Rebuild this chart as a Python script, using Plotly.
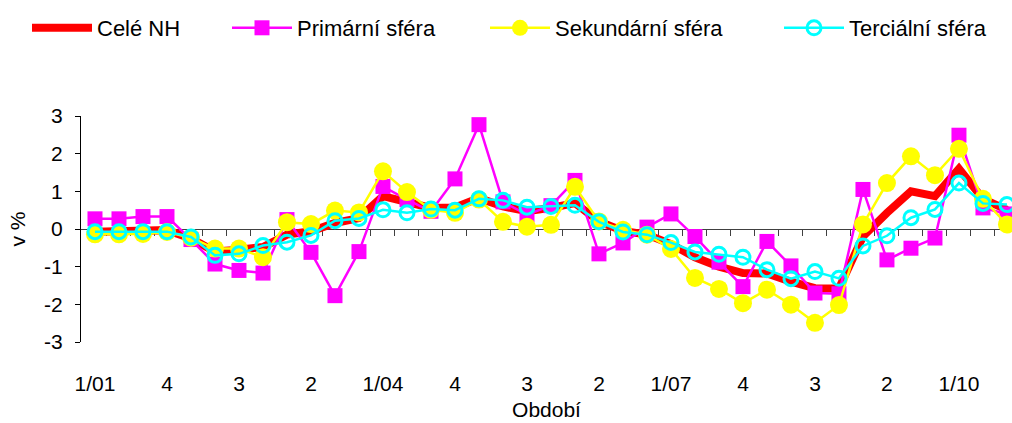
import plotly.graph_objects as go

categories = [
    "1/01", "2", "3", "4", "1/02", "2", "3", "4", "1/03", "2", "3", "4",
    "1/04", "2", "3", "4", "1/05", "2", "3", "4", "1/06", "2", "3", "4",
    "1/07", "2", "3", "4", "1/08", "2", "3", "4", "1/09", "2", "3", "4",
    "1/10", "2", "3",
]

cele_nh = [-0.07, -0.07, -0.05, -0.03, -0.25, -0.6, -0.55, -0.48, -0.15, -0.06,
           0.16, 0.29, 0.87, 0.73, 0.56, 0.57, 0.82, 0.6, 0.47, 0.56,
           0.69, 0.2, -0.05, -0.15, -0.4, -0.75, -1.0, -1.17, -1.18, -1.4,
           -1.57, -1.58, -0.2, 0.43, 1.0, 0.87, 1.6, 0.8, 0.51]

primarni = [0.27, 0.27, 0.33, 0.33, -0.28, -0.93, -1.1, -1.17, 0.25, -0.62,
            -1.77, -0.6, 1.13, 0.78, 0.47, 1.33, 2.77, 0.72, 0.38, 0.62,
            1.29, -0.66, -0.37, 0.05, 0.4, -0.2, -0.88, -1.53, -0.33, -0.98,
            -1.7, -1.72, 1.05, -0.82, -0.51, -0.24, 2.49, 0.56, 0.4]

sekundarni = [-0.14, -0.14, -0.13, -0.08, -0.23, -0.52, -0.52, -0.75, 0.18, 0.13,
              0.49, 0.44, 1.53, 0.98, 0.51, 0.43, 0.78, 0.19, 0.06, 0.11,
              1.12, 0.2, -0.02, -0.15, -0.53, -1.3, -1.59, -1.97, -1.61, -2.01,
              -2.49, -2.02, 0.12, 1.22, 1.93, 1.43, 2.13, 0.8, 0.12]

terciarni = [-0.07, -0.07, -0.07, -0.07, -0.21, -0.7, -0.66, -0.44, -0.35, -0.17,
             0.22, 0.28, 0.51, 0.43, 0.53, 0.5, 0.8, 0.76, 0.58, 0.6,
             0.63, 0.19, -0.08, -0.15, -0.36, -0.61, -0.67, -0.75, -1.08, -1.32,
             -1.13, -1.31, -0.45, -0.18, 0.3, 0.52, 1.22, 0.68, 0.65]

y_ticks = [-3, -2, -1, 0, 1, 2, 3]
y_tick_text = ["-3", "-2", "-1", "0", "1", "2", "3"]

x_idx = list(range(len(categories)))
label_idx = x_idx[::3]
label_text = [categories[i] for i in label_idx]
boundaries = [i + 0.5 for i in x_idx]

FONT = "Liberation Sans, Arial, sans-serif"
FS = 21
x_range = [-0.583, 38.21]

fig = go.Figure()

fig.add_trace(go.Scatter(
    x=x_idx, y=cele_nh, name="Celé NH", mode="lines",
    line=dict(color="#FF0000", width=8), legend="legend"))
fig.add_trace(go.Scatter(
    x=x_idx, y=primarni, name="Primární sféra", mode="lines+markers",
    line=dict(color="#FF00FF", width=2.5),
    marker=dict(symbol="square", size=15, color="#FF00FF"), legend="legend2"))
fig.add_trace(go.Scatter(
    x=x_idx, y=sekundarni, name="Sekundární sféra", mode="lines+markers",
    line=dict(color="#FFFF00", width=2.5),
    marker=dict(symbol="circle", size=18, color="#FFFF00"), legend="legend3"))
fig.add_trace(go.Scatter(
    x=x_idx, y=terciarni, name="Terciální sféra", mode="lines+markers",
    line=dict(color="#00FFFF", width=2.5),
    marker=dict(symbol="circle-open", size=14, color="#00FFFF", line=dict(width=3)),
    legend="legend4"))

# carrier for the axis that crosses at zero
fig.add_trace(go.Scatter(x=[None], y=[None], xaxis="x2", showlegend=False,
                         hoverinfo="skip"))

leg_common = dict(orientation="h", yref="container", yanchor="middle",
                  y=1 - 28 / 423.0, xref="container", xanchor="left",
                  itemwidth=60,
                  bgcolor="rgba(0,0,0,0)", borderwidth=0,
                  font=dict(family=FONT, size=22, color="black"))

def px_c(px):
    return px / 1012.0

fig.update_layout(
    width=1012, height=423,
    margin=dict(l=81, r=0, t=116, b=81, autoexpand=False),
    paper_bgcolor="white", plot_bgcolor="white",
    font=dict(family=FONT, size=FS, color="black"),
    showlegend=True,
    legend=dict(leg_common, x=px_c(27)),
    legend2=dict(leg_common, x=px_c(227)),
    legend3=dict(leg_common, x=px_c(485)),
    legend4=dict(leg_common, x=px_c(779)),
    xaxis=dict(
        range=x_range, tickmode="array", tickvals=label_idx, ticktext=label_text,
        showline=False, ticks="", showgrid=False, zeroline=False, automargin=False,
        ticklabelstandoff=27, tickfont=dict(family=FONT, size=FS),
        title=dict(text="Období", standoff=8, font=dict(family=FONT, size=FS)),
    ),
    xaxis2=dict(
        range=x_range, overlaying="x", anchor="free", position=0.5,
        showline=True, linecolor="#404040", linewidth=1,
        ticks="outside", ticklen=6, tickcolor="#404040", tickwidth=1,
        tickmode="array", tickvals=boundaries, showticklabels=False,
        showgrid=False, zeroline=False, layer="below traces", automargin=False,
    ),
    yaxis=dict(
        range=[-3, 3], tickmode="array", tickvals=y_ticks, ticktext=y_tick_text,
        showline=True, linecolor="black", linewidth=1,
        ticks="outside", ticklen=5, tickcolor="black", automargin=False,
        showgrid=False, zeroline=False, ticklabelstandoff=8,
        tickfont=dict(family=FONT, size=FS),
        title=dict(text="v %", standoff=12, font=dict(family=FONT, size=FS)),
    ),
)

fig.write_html(
    "out.html",
    config={"displayModeBar": False, "staticPlot": True},
    post_script="document.body.style.margin='0';document.body.style.overflow='hidden';",
)
